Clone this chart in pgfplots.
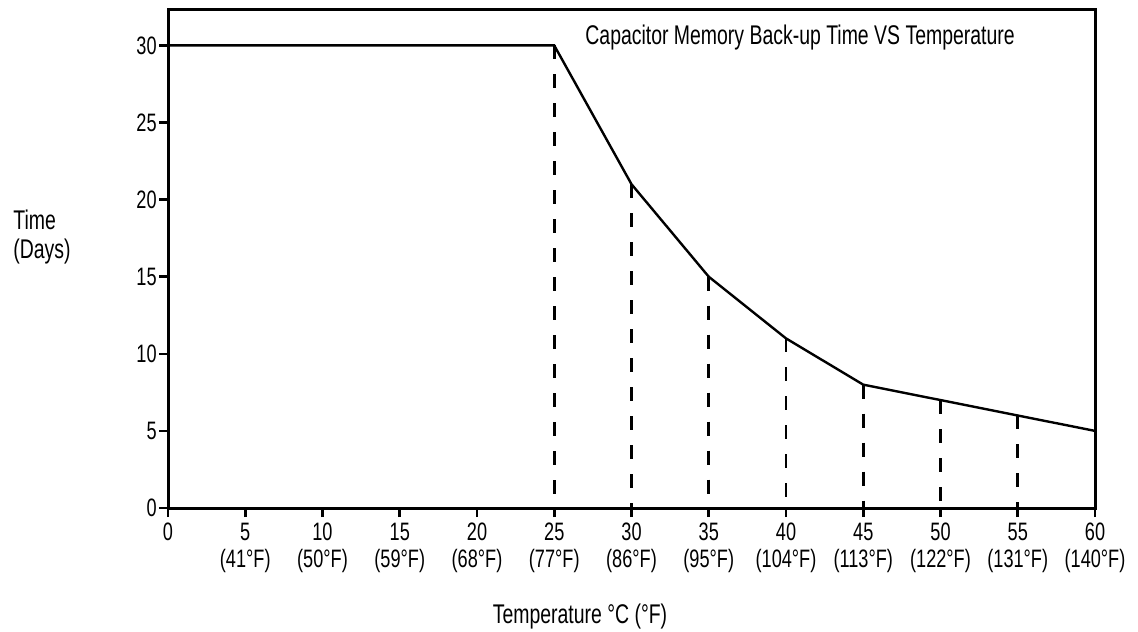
\documentclass[border=0pt]{standalone}
\usepackage{fontspec}
\setmainfont{Liberation Sans}[FakeStretch=0.72]
\usepackage{pgfplots}
\pgfplotsset{compat=1.18}
\begin{document}
\begin{tikzpicture}
\useasboundingbox (-84pt,-61.5pt) rectangle (485pt,254pt);
\begin{axis}[
  at={(0,0)}, anchor=south west,
  scale only axis, width=463.5pt, height=249pt,
  xmin=0, xmax=60, ymin=0, ymax=32.3,
  axis line style={line width=1.5pt},
  tick align=outside, major tick length=4.5pt,
  tick style={line width=1.3pt, black},
  xtick pos=bottom, ytick pos=left,
  xtick={0,5,...,60}, ytick={0,5,...,30},
  xticklabels={0, 5\\(41°F), 10\\(50°F), 15\\(59°F), 20\\(68°F), 25\\(77°F), 30\\(86°F), 35\\(95°F), 40\\(104°F), 45\\(113°F), 50\\(122°F), 55\\(131°F), 60\\(140°F)},
  x tick label style={align=center, font=\fontsize{12.6}{13.2}\selectfont, inner sep=1pt, yshift=-2pt},
  y tick label style={font=\fontsize{12.6}{13.2}\selectfont, inner sep=1pt},
  /pgf/number format/assume math mode=true,
  clip=false,
]
\addplot[black, line width=1.2pt] coordinates {(0,30) (25,30) (30,21) (35,15) (40,11) (45,8) (50,7) (55,6) (60,5)};
\addplot[black, line width=1.4pt, dash pattern=on 7pt off 7.5pt] coordinates {(25,30) (25,0)};
\addplot[black, line width=1.4pt, dash pattern=on 7pt off 7.5pt] coordinates {(30,21) (30,0)};
\addplot[black, line width=1.4pt, dash pattern=on 7pt off 7.5pt] coordinates {(35,15) (35,0)};
\addplot[black, line width=1.4pt, dash pattern=on 7pt off 7.5pt] coordinates {(40,11) (40,0)};
\addplot[black, line width=1.4pt, dash pattern=on 7pt off 7.5pt] coordinates {(45,8) (45,0)};
\addplot[black, line width=1.4pt, dash pattern=on 7pt off 7.5pt] coordinates {(50,7) (50,0)};
\addplot[black, line width=1.4pt, dash pattern=on 7pt off 7.5pt] coordinates {(55,6) (55,0)};
\end{axis}
\node[anchor=west, align=left, font=\fontsize{13.5}{14.5}\selectfont, inner sep=0pt] at (-77.5pt,135.5pt) {Time\\(Days)};
\node[anchor=west, font=\fontsize{13.5}{14}\selectfont, inner sep=0pt] at (208.5pt,235pt) {Capacitor Memory Back-up Time VS Temperature};
\node[font=\fontsize{13.5}{14}\selectfont, inner sep=0pt] at (206pt,-54.5pt) {Temperature °C (°F)};
\end{tikzpicture}
\end{document}
